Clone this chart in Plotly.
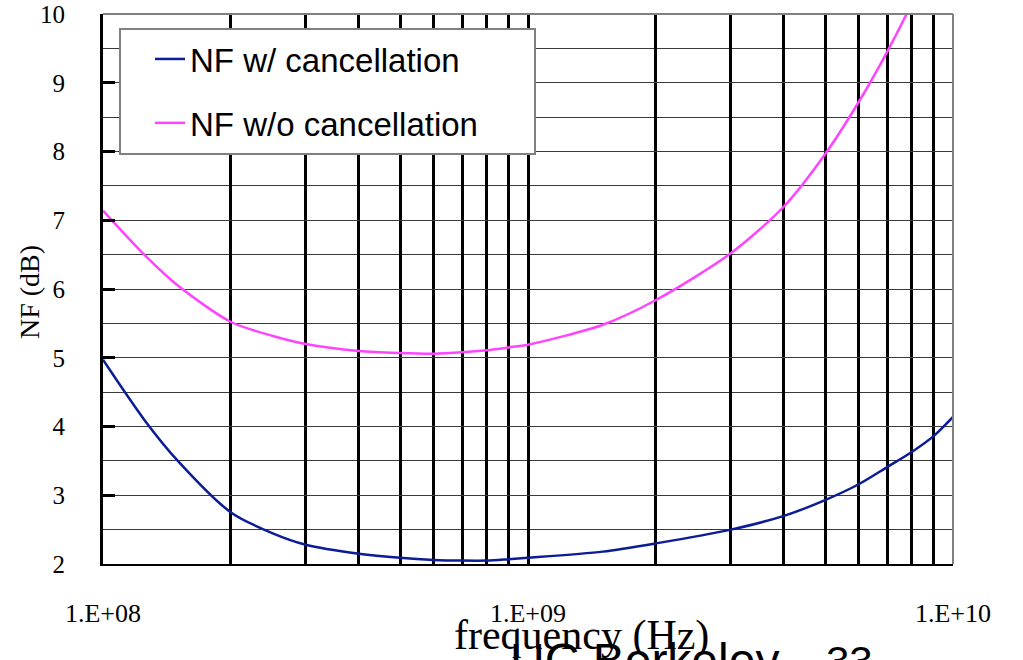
import plotly.graph_objects as go

# Frequency sweep (Hz) and noise figure (dB) for the two LNA configurations
freq_hz = [1e8, 1.25e8, 1.5e8, 2e8, 2.5e8, 3e8, 4e8, 5e8, 6e8, 7e8, 8e8, 9e8,
           1e9, 1.5e9, 2e9, 3e9, 4e9, 5e9, 6e9, 7e9, 8e9, 9e9, 1e10]
nf_with_cancel = [4.97, 4.10, 3.50, 2.75, 2.45, 2.28, 2.15, 2.09, 2.06, 2.05, 2.05, 2.07,
                  2.09, 2.18, 2.30, 2.50, 2.70, 2.93, 3.16, 3.41, 3.63, 3.86, 4.14]

freq_wo_hz = [1e8, 1.25e8, 1.5e8, 2e8, 2.5e8, 3e8, 4e8, 5e8, 6e8, 7e8, 8e8, 9e8,
              1e9, 1.5e9, 2e9, 3e9, 4e9, 5e9, 6e9, 7e9, 8e9]
nf_without_cancel = [7.14, 6.50, 6.05, 5.52, 5.32, 5.20, 5.10, 5.07, 5.06, 5.08, 5.11, 5.15,
                     5.19, 5.48, 5.84, 6.52, 7.20, 7.96, 8.72, 9.45, 10.15]

# Axis ticks
x_decades = [1e8, 1e9, 1e10]
x_decade_labels = ["1.E+08", "1.E+09", "1.E+10"]
y_ticks = [2, 3, 4, 5, 6, 7, 8, 9, 10]

# vertical grid at every 1..9 x decade, labels only on decades
x_grid = [m * 10 ** e for e in (8, 9) for m in range(1, 10)] + [1e10]
x_grid_text = [x_decade_labels[x_decades.index(v)] if v in x_decades else "" for v in x_grid]

W, H = 1023, 660
L, R, T, B = 103, 70, 14, 96
plot_w = W - L - R
plot_h = H - T - B


def px(pixel_x):
    """Convert a figure pixel column into paper coordinates."""
    return (pixel_x - L) / plot_w


def py(pixel_y):
    """Convert a figure pixel row into paper coordinates."""
    return (H - B - pixel_y) / plot_h


fig = go.Figure()

fig.add_trace(go.Scatter(
    x=freq_hz, y=nf_with_cancel, mode="lines", name="NF w/ cancellation",
    line=dict(color="#0c1c96", width=2.5, shape="spline", smoothing=0.8),
    legendgroup="a",
))
fig.add_trace(go.Scatter(
    x=freq_wo_hz, y=nf_without_cancel, mode="lines", name="NF w/o cancellation",
    line=dict(color="#ff44ff", width=2.5, shape="spline", smoothing=0.8),
    legendgroup="b",
))

serif = "Liberation Serif, Times New Roman, serif"
sans = "Liberation Sans, Arial, sans-serif"

fig.update_layout(
    width=W, height=H,
    margin=dict(l=L, r=R, t=T, b=B, autoexpand=False),
    paper_bgcolor="white", plot_bgcolor="white",
    showlegend=True,
    legend=dict(
        x=px(122), y=py(31), xanchor="left", yanchor="top",
        bgcolor="rgba(0,0,0,0)", borderwidth=0,
        font=dict(family=sans, size=33, color="black"),
        traceorder="grouped", tracegroupgap=18, indentation=28,
    ),
    xaxis=dict(
        type="log", range=[8, 10],
        tickvals=x_grid, ticktext=x_grid_text,
        ticks="", showgrid=True, gridcolor="black", gridwidth=3,
        showline=True, linecolor="black", linewidth=2,
        tickfont=dict(family=serif, size=26, color="black"),
        ticklabelstandoff=25, zeroline=False,
    ),
    yaxis=dict(
        range=[2, 10], tickvals=y_ticks,
        ticks="inside", ticklen=12, tickwidth=3, tickcolor="black",
        showgrid=True, gridcolor="#3a3a3a", gridwidth=1.3,
        minor=dict(dtick=0.5, showgrid=True, gridcolor="#3a3a3a", gridwidth=1.3, ticks=""),
        showline=True, linecolor="black", linewidth=3,
        tickfont=dict(family=serif, size=25, color="black"),
        ticklabelstandoff=30, zeroline=False,
    ),
    shapes=[
        # light frame on the top and right edges of the plotting area
        dict(type="line", xref="paper", yref="paper", x0=0, x1=1, y0=1, y1=1,
             line=dict(color="#808080", width=2), layer="above"),
        dict(type="line", xref="paper", yref="paper", x0=1, x1=1, y0=0, y1=1,
             line=dict(color="#808080", width=2), layer="above"),
        # legend panel
        dict(type="rect", xref="paper", yref="paper",
             x0=px(120), x1=px(535), y0=py(154), y1=py(29),
             fillcolor="white", line=dict(color="#808080", width=2), layer="above"),
    ],
    annotations=[
        dict(text="NF (dB)", xref="paper", yref="paper", textangle=-90,
             x=px(30), y=py(292), xanchor="center", yanchor="middle",
             showarrow=False, font=dict(family=serif, size=28, color="black")),
        dict(text="frequency (Hz)", xref="paper", yref="paper",
             x=px(581), y=py(661), xanchor="center", yanchor="bottom",
             showarrow=False, font=dict(family=serif, size=42, color="black")),
        dict(text="UC Berkeley", xref="paper", yref="paper",
             x=px(508), y=py(632), xanchor="left", yanchor="top",
             showarrow=False, font=dict(family=sans, size=48, color="black")),
        dict(text="33", xref="paper", yref="paper",
             x=px(824), y=py(636), xanchor="left", yanchor="top",
             showarrow=False, font=dict(family=sans, size=42, color="black")),
    ],
)

fig.write_html("out.html")
